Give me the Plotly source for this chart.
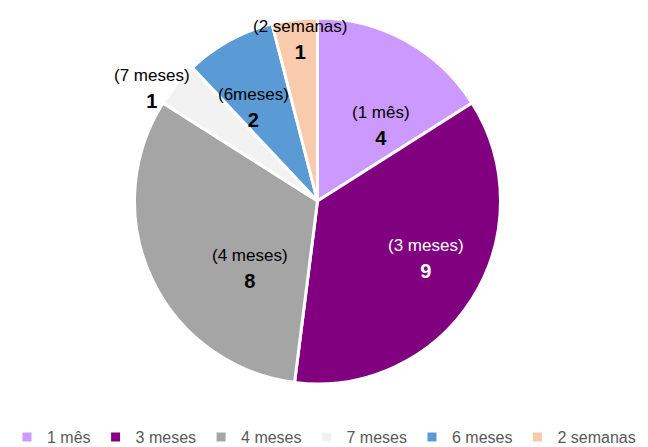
import math
import plotly.graph_objects as go

# ---- data ----
categories = ["1 mês", "3 meses", "4 meses", "7 meses", "6 meses", "2 semanas"]
slice_labels = ["(1 mês)", "(3 meses)", "(4 meses)", "(7 meses)", "(6meses)", "(2 semanas)"]
values = [4, 9, 8, 1, 2, 1]

# ---- style ----
colors = ["#CC99FF", "#800080", "#A5A5A5", "#F2F2F2", "#5B9BD5", "#F8CBAD"]
text_colors = ["#000000", "#FFFFFF", "#000000", "#000000", "#000000", "#000000"]
# label placement: radius as a fraction of the pie radius, and a small nudge from the slice mid-angle (deg)
label_radius = [0.536, 0.673, 0.523, 1.094, 0.617, 0.885]
label_nudge = [11.6, -4.5, -19.8, -5.6, -5.5, 1.0]

W, H = 648, 447
MT, MB = 0, 45
plot_h = H - MT - MB
dom_x = [134.5 / W, 500.5 / W]
dom_y = [1 - 384 / plot_h, 1 - 18 / plot_h]

label_font = "Liberation Sans, Arial, sans-serif"

fig = go.Figure(go.Pie(
    labels=categories,
    values=values,
    sort=False,
    direction="clockwise",
    rotation=0,
    marker=dict(colors=colors, line=dict(color="#FFFFFF", width=3)),
    textinfo="none",
    hoverinfo="label+value",
    domain=dict(x=dom_x, y=dom_y),
))

total = sum(values)
cx = (dom_x[0] + dom_x[1]) / 2 * W
cy_paper = (dom_y[0] + dom_y[1]) / 2
r = min((dom_x[1] - dom_x[0]) * W, (dom_y[1] - dom_y[0]) * plot_h) / 2
for i in range(len(values)):
    mid = (sum(values[:i]) + values[i] / 2) / total * 2 * math.pi + math.radians(label_nudge[i])
    k = label_radius[i]
    fig.add_annotation(
        x=(cx + k * r * math.sin(mid)) / W,
        y=cy_paper + k * r * math.cos(mid) / plot_h,
        xref="paper", yref="paper", showarrow=False,
        xanchor="center", yanchor="middle",
        text="<span style='font-size:17px'>" + slice_labels[i] + "</span><br>"
             + "<b><span style='font-size:20px'>" + str(values[i]) + "</span></b>",
        font=dict(family=label_font, size=21, color=text_colors[i]),
    )

fig.update_layout(
    width=W, height=H,
    margin=dict(l=0, r=0, t=MT, b=MB),
    paper_bgcolor="#FFFFFF",
    showlegend=True,
    legend=dict(orientation="h", x=0.5, xanchor="center",
                yref="container", y=(H - 437) / H, yanchor="middle",
                font=dict(family=label_font, size=16, color="#595959"),
                itemwidth=30, tracegroupgap=0),
)

fig.write_html("out.html", config={"displayModeBar": False},
               post_script="document.body.style.margin='0';")
